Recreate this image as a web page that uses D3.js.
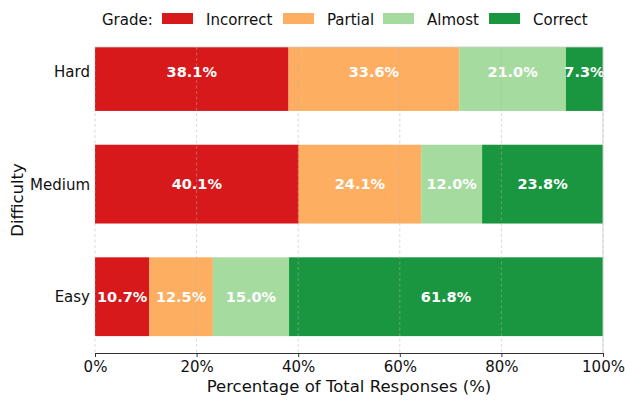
<!DOCTYPE html>
<html>
<head>
<meta charset="utf-8">
<script src="https://cdn.jsdelivr.net/npm/d3@7"></script>
<style>
  body { margin: 0; background: #fff; }
  svg { font-family: "DejaVu Sans", sans-serif; }
</style>
</head>
<body>
<div id="chart"></div>
<script>
// donnees
const difficulties = ["Easy", "Medium", "Hard"];
const grades = ["Incorrect", "Partial", "Almost", "Correct"];
const colors = ["#d7191c", "#fdae61", "#a6dba0", "#1a9641"];
const incorrect = [10.7, 40.1, 38.1];
const partial = [12.5, 24.1, 33.6];
const almost = [15.0, 12.0, 21.0];
const correct = [61.8, 23.8, 7.3];
const xTicks = [0, 20, 40, 60, 80, 100];

const width = 625, height = 400;
const margin = { top: 47, right: 22, bottom: 47, left: 95 };

const svg = d3.select("#chart").append("svg")
  .attr("width", width)
  .attr("height", height);

const x = d3.scaleLinear().domain([0, 100]).range([margin.left, width - margin.right]);
const y = d3.scaleLinear().domain([-0.5, 2.218]).range([height - margin.bottom, margin.top]);
const barH = y(0) - y(0.7);

const rows = difficulties.map((d, i) => ({
  difficulty: d, i: i,
  Incorrect: incorrect[i], Partial: partial[i], Almost: almost[i], Correct: correct[i]
}));
const stacked = d3.stack().keys(grades)(rows);

svg.append("clipPath").attr("id", "clip")
  .append("rect")
  .attr("x", margin.left).attr("y", margin.top)
  .attr("width", x(100) - x(0)).attr("height", y(-0.5) - y(2.218));

const plot = svg.append("g").attr("clip-path", "url(#clip)");

stacked.forEach((serie, k) => {
  plot.append("g").selectAll("rect")
    .data(serie)
    .join("rect")
    .attr("x", d => x(d[0]))
    .attr("width", d => x(d[1]) - x(d[0]))
    .attr("y", (d, i) => y(i) - barH / 2)
    .attr("height", barH)
    .attr("fill", colors[k]);
});

// grille verticale
svg.append("g").selectAll("line")
  .data(xTicks)
  .join("line")
  .attr("x1", d => x(d)).attr("x2", d => x(d))
  .attr("y1", margin.top).attr("y2", height - margin.bottom)
  .attr("stroke", "#b0b0b0")
  .attr("stroke-opacity", 0.6)
  .attr("stroke-dasharray", "3,2.5")
  .attr("stroke-width", 0.8);

// etiquettes
stacked.forEach((serie, k) => {
  plot.append("g").selectAll("text")
    .data(serie)
    .join("text")
    .attr("x", d => x((d[0] + d[1]) / 2))
    .attr("y", (d, i) => y(i))
    .attr("dy", "0.36em")
    .attr("text-anchor", "middle")
    .attr("fill", "#fff")
    .attr("font-weight", "bold")
    .attr("font-size", "14.5px")
    .text(d => (d[1] - d[0]).toFixed(1) + "%");
});

// cadre
svg.append("line")
  .attr("x1", margin.left).attr("x2", x(100))
  .attr("y1", margin.top).attr("y2", margin.top)
  .attr("stroke", "#cccccc").attr("stroke-width", 0.8);
svg.append("line")
  .attr("x1", x(100)).attr("x2", x(100))
  .attr("y1", margin.top).attr("y2", height - margin.bottom)
  .attr("stroke", "#cccccc").attr("stroke-width", 0.8);

// axe x
const xAxis = svg.append("g")
  .attr("transform", "translate(0," + (height - margin.bottom) + ")")
  .call(d3.axisBottom(x).tickValues(xTicks).tickFormat(d => d + "%").tickSize(4).tickPadding(4));
xAxis.select(".domain").attr("stroke", "#333").attr("stroke-width", 1);
xAxis.selectAll(".tick line").attr("stroke", "#333");
xAxis.selectAll("text").attr("font-size", "15px").attr("fill", "#111")
  .attr("font-family", "DejaVu Sans, sans-serif");

// axe y
svg.append("g").selectAll("text")
  .data(difficulties)
  .join("text")
  .attr("x", margin.left - 5)
  .attr("y", (d, i) => y(i))
  .attr("dy", "0.36em")
  .attr("text-anchor", "end")
  .attr("font-size", "15px")
  .attr("fill", "#111")
  .text(d => d);

svg.append("text")
  .attr("x", (x(0) + x(100)) / 2)
  .attr("y", 392)
  .attr("text-anchor", "middle")
  .attr("font-size", "16.5px")
  .attr("fill", "#111")
  .text("Percentage of Total Responses (%)");

svg.append("text")
  .attr("transform", "translate(23," + ((y(-0.5) + y(2.218)) / 2) + ") rotate(-90)")
  .attr("text-anchor", "middle")
  .attr("font-size", "16.5px")
  .attr("fill", "#111")
  .text("Difficulty");

// legende
const legend = svg.append("g").attr("font-size", "15px").attr("fill", "#111");
legend.append("text").attr("x", 102).attr("y", 25).text("Grade:");
const legendX = [162, 283, 383, 489];
grades.forEach((g, k) => {
  legend.append("rect")
    .attr("x", legendX[k]).attr("y", 13)
    .attr("width", 31).attr("height", 11)
    .attr("fill", colors[k]);
  legend.append("text")
    .attr("x", legendX[k] + 44).attr("y", 25)
    .text(g);
});
</script>
</body>
</html>
